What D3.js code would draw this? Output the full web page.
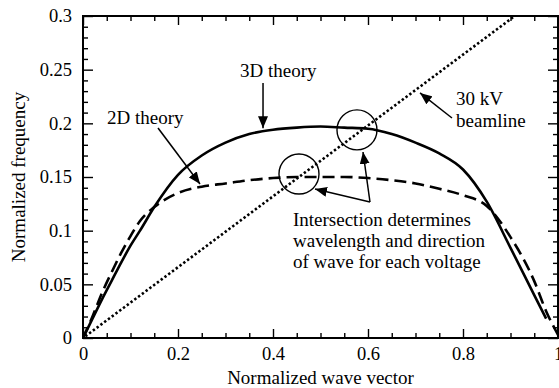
<!DOCTYPE html>
<html>
<head>
<meta charset="utf-8">
<script src="https://cdn.jsdelivr.net/npm/d3@7"></script>
<style>
  body { margin: 0; background: #fff; }
  text { fill: #000; }
  .tick line { stroke: #000; stroke-width: 1.4; }
</style>
</head>
<body>
<svg id="chart"></svg>
<script>
// wave vector samples
const waveVector = [0, 0.02, 0.04, 0.06, 0.08, 0.1, 0.12, 0.15, 0.2, 0.25, 0.3, 0.35, 0.4, 0.45, 0.5,
                    0.55, 0.6, 0.65, 0.7, 0.75, 0.8, 0.85, 0.9, 0.95, 0.975];
const theory3D = [0, 0.018, 0.036, 0.053, 0.07, 0.086, 0.1, 0.122, 0.152, 0.17, 0.182, 0.19, 0.194, 0.196, 0.197,
                  0.196, 0.195, 0.19, 0.182, 0.172, 0.157, 0.127, 0.084, 0.04, 0.018];

const waveVector2D = [0, 0.02, 0.04, 0.06, 0.08, 0.1, 0.12, 0.15, 0.2, 0.25, 0.3, 0.35, 0.4, 0.45, 0.5,
                      0.55, 0.6, 0.65, 0.7, 0.75, 0.8, 0.85, 0.9, 0.95, 0.975, 1.0];
const theory2D = [0, 0.02, 0.042, 0.061, 0.079, 0.095, 0.109, 0.122, 0.135, 0.141, 0.144, 0.147, 0.149, 0.15, 0.15,
                  0.15, 0.149, 0.147, 0.144, 0.139, 0.133, 0.123, 0.094, 0.053, 0.025, 0.003];

const beamX = [0.005, 0.909];
const beamY = [0.0016, 0.3];

const xMajor = [0, 0.2, 0.4, 0.6, 0.8, 1];
const xMajorLabels = ['0', '0.2', '0.4', '0.6', '0.8', '1'];
const yMajor = [0, 0.05, 0.1, 0.15, 0.2, 0.25, 0.3];
const yMajorLabels = ['0', '0.05', '0.1', '0.15', '0.2', '0.25', '0.3'];

const FONT = "'Liberation Serif', 'Times New Roman', Times";

function translate(x, y) {
    return `translate(${x}, ${y})`;
}

const svgWidth = 559, svgHeight = 388;
const margin = { top: 16, left: 83, right: 1, bottom: 50 };
const width = svgWidth - margin.left - margin.right,
    height = svgHeight - margin.top - margin.bottom;

const svg = d3.select('#chart').attr('width', svgWidth).attr('height', svgHeight)
    .style('font-family', FONT);

const x = d3.scaleLinear().domain([0, 1]).range([0, width]);
const y = d3.scaleLinear().domain([0, 0.3]).range([height, 0]);

const xMinor = d3.range(0, 1.0001, 0.05).filter(v => !xMajor.some(m => Math.abs(m - v) < 1e-6));
const yMinor = d3.range(0, 0.3001, 0.01).filter(v => !yMajor.some(m => Math.abs(m - v) < 1e-6));

const defs = svg.append('defs');
defs.append('marker')
    .attr('id', 'arrow')
    .attr('viewBox', '0 0 12 10')
    .attr('refX', 12).attr('refY', 5)
    .attr('markerWidth', 12).attr('markerHeight', 10)
    .attr('markerUnits', 'userSpaceOnUse')
    .attr('orient', 'auto')
  .append('path')
    .attr('d', 'M0,0 L12,5 L0,10 Z')
    .attr('fill', '#000');
defs.append('clipPath').attr('id', 'clip')
  .append('rect').attr('width', width).attr('height', height);

const view = svg.append('g').attr('transform', translate(margin.left, margin.top));

// axes: ticks pointing inward on all four sides
const tf = labels => (d, i) => labels[i];
const gx = view.append('g').attr('transform', translate(0, height));
gx.call(d3.axisBottom(x).tickValues(xMajor).tickSize(-9).tickPadding(9).tickFormat(tf(xMajorLabels)));
gx.append('g').call(d3.axisBottom(x).tickValues(xMinor).tickSize(-5).tickFormat(''));
view.append('g').call(d3.axisTop(x).tickValues(xMajor).tickSize(-9).tickFormat(''));
view.append('g').call(d3.axisTop(x).tickValues(xMinor).tickSize(-5).tickFormat(''));

const gy = view.append('g');
gy.call(d3.axisLeft(y).tickValues(yMajor).tickSize(-10).tickPadding(11).tickFormat(tf(yMajorLabels)));
gy.append('g').call(d3.axisLeft(y).tickValues(yMinor).tickSize(-5).tickFormat(''));
const gr = view.append('g').attr('transform', translate(width, 0));
gr.call(d3.axisRight(y).tickValues(yMajor).tickSize(-10).tickFormat(''));
gr.append('g').call(d3.axisRight(y).tickValues(yMinor).tickSize(-5).tickFormat(''));

view.selectAll('.domain').remove();
view.selectAll('g').attr('font-family', null).attr('font-size', null);
view.selectAll('.tick text').style('font-size', '18.5px');

view.append('rect')
    .attr('width', width).attr('height', height)
    .attr('fill', 'none').attr('stroke', '#000').attr('stroke-width', 2);

// curves
const line = d3.line().x(d => x(d[0])).y(d => y(d[1])).curve(d3.curveMonotoneX);
const plot = view.append('g').attr('clip-path', 'url(#clip)');

plot.append('path')
    .datum(d3.zip(beamX, beamY))
    .attr('d', d3.line().x(d => x(d[0])).y(d => y(d[1])))
    .attr('fill', 'none').attr('stroke', '#000')
    .attr('stroke-width', 2.6).attr('stroke-dasharray', '2.4,2.3');

plot.append('path')
    .datum(d3.zip(waveVector2D, theory2D))
    .attr('d', line)
    .attr('fill', 'none').attr('stroke', '#000')
    .attr('stroke-width', 2.6).attr('stroke-dasharray', '12,6');

plot.append('path')
    .datum(d3.zip(waveVector, theory3D))
    .attr('d', line)
    .attr('fill', 'none').attr('stroke', '#000')
    .attr('stroke-width', 2.6);

// annotations (data units)
const note = (tx, ty, str, anchor = 'start') => view.append('text')
    .attr('x', x(tx)).attr('y', y(ty))
    .attr('text-anchor', anchor)
    .style('font-size', '19px')
    .text(str);
const arrow = (x1, y1, x2, y2) => view.append('line')
    .attr('x1', x(x1)).attr('y1', y(y1)).attr('x2', x(x2)).attr('y2', y(y2))
    .attr('stroke', '#000').attr('stroke-width', 1.5)
    .attr('marker-end', 'url(#arrow)');

note(0.411, 0.2432, '3D theory', 'middle');
arrow(0.379, 0.2376, 0.379, 0.1955);

note(0.0505, 0.1995, '2D theory');
arrow(0.1579, 0.1957, 0.2463, 0.1435);

note(0.7853, 0.2171, '30 kV');
note(0.7853, 0.1966, 'beamline');
arrow(0.7768, 0.2050, 0.7095, 0.2283);

[[0.4547, 0.1528], [0.5768, 0.1939]].forEach(c => {
    view.append('circle')
        .attr('cx', x(c[0])).attr('cy', y(c[1])).attr('r', 20)
        .attr('fill', 'none').attr('stroke', '#000').attr('stroke-width', 1.4);
});
arrow(0.6042, 0.1267, 0.5895, 0.1733);
arrow(0.6042, 0.1267, 0.4884, 0.1388);

note(0.4421, 0.1043, 'Intersection determines');
note(0.4421, 0.0848, 'wavelength and direction');
note(0.4421, 0.0652, 'of wave for each voltage');

// axis titles
svg.append('text')
    .attr('transform', translate(margin.left + width / 2, 384))
    .style('text-anchor', 'middle').style('font-size', '19px')
    .text('Normalized wave vector');
svg.append('text')
    .attr('transform', translate(25, margin.top + height / 2) + ' rotate(-90)')
    .style('text-anchor', 'middle').style('font-size', '19px')
    .text('Normalized frequency');
</script>
</body>
</html>
